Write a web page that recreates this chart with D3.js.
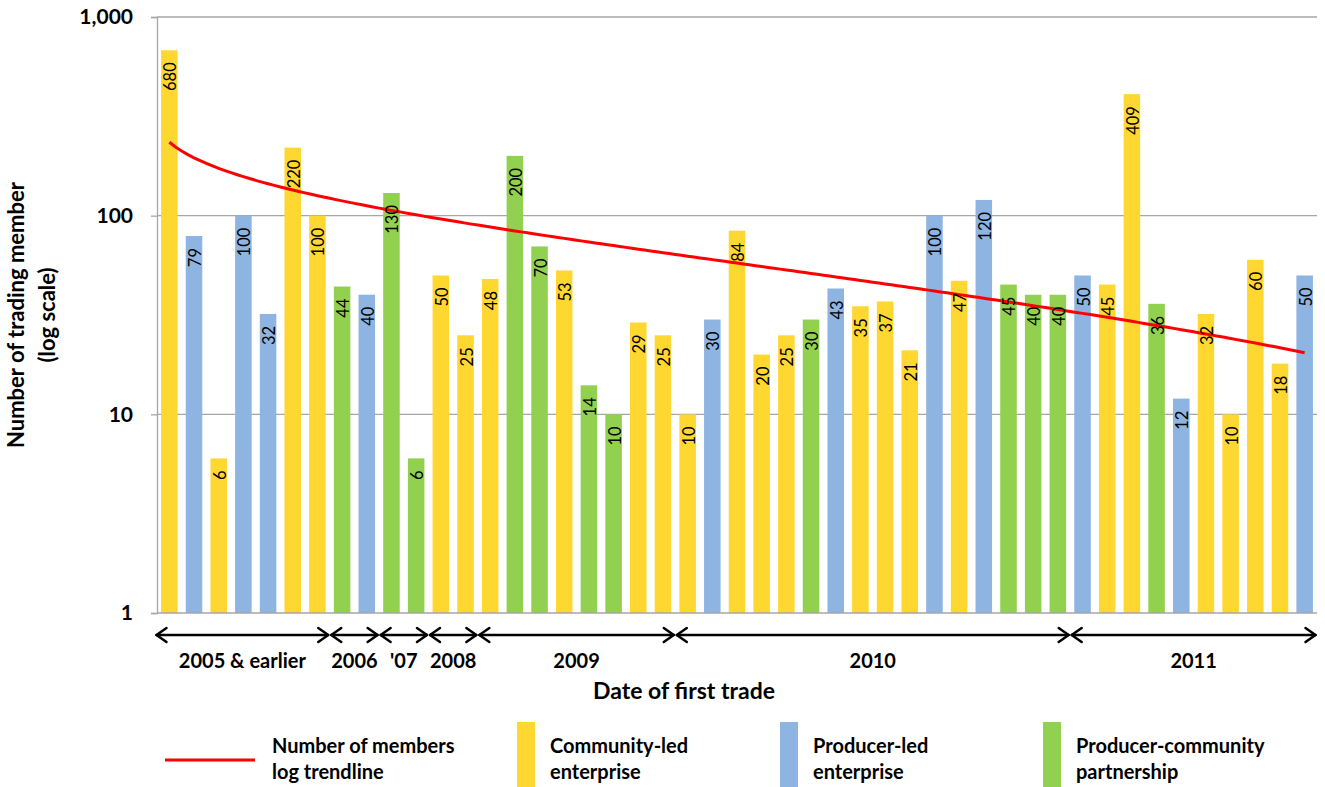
<!DOCTYPE html>
<html>
<head>
<meta charset="utf-8">
<script src="https://cdn.jsdelivr.net/npm/d3@7"></script>
<style>
  body { margin: 0; background: #fff; }
  svg { display: block; font-family: Lato, "Open Sans", sans-serif; }
</style>
</head>
<body>
<script>
// bar values, in order of first trade
var members = [680, 79, 6, 100, 32, 220, 100, 44, 40, 130, 6, 50, 25, 48, 200, 70, 53, 14, 10, 29, 25,
  10, 30, 84, 20, 25, 30, 43, 35, 37, 21, 100, 47, 120, 45, 40, 40,
  50, 45, 409, 36, 12, 32, 10, 60, 18, 50];
// C = community-led, P = producer-led, PC = producer-community partnership
var types = ['C', 'P', 'C', 'P', 'P', 'C', 'C', 'PC', 'P', 'PC', 'PC', 'C', 'C', 'C', 'PC', 'PC', 'C', 'PC', 'PC', 'C', 'C',
  'C', 'P', 'C', 'C', 'C', 'PC', 'P', 'C', 'C', 'C', 'P', 'C', 'P', 'PC', 'PC', 'PC',
  'P', 'C', 'C', 'PC', 'P', 'C', 'C', 'C', 'C', 'P'];
var yearLabels = ['2005 & earlier', '2006', "'07", '2008', '2009', '2010', '2011'];
var yearCounts = [7, 2, 2, 2, 8, 16, 10];
var yTicks = [1, 10, 100, 1000];
var legendItems = [
  {key: 'trend', lines: ['Number of members', 'log trendline']},
  {key: 'C', lines: ['Community-led', 'enterprise']},
  {key: 'P', lines: ['Producer-led', 'enterprise']},
  {key: 'PC', lines: ['Producer-community', 'partnership']}
];

var colors = {C: '#FFD731', P: '#8EB4E2', PC: '#92D050', trend: '#FF0000'};

var width = 1325, height = 787;
var plotLeft = 157, plotRight = 1317, plotTop = 17, plotBottom = 613;

var svg = d3.select('body').append('svg').attr('width', width).attr('height', height);

var x = d3.scaleBand().domain(d3.range(members.length)).range([plotLeft, plotRight])
  .paddingInner(0.33).paddingOuter(0.165);
var y = d3.scaleLog().domain([1, 1000]).range([plotBottom, plotTop]);

// gridlines
svg.append('g').selectAll('line').data(yTicks.slice(1)).enter().append('line')
  .attr('x1', plotLeft).attr('x2', plotRight)
  .attr('y1', function(d) { return y(d); }).attr('y2', function(d) { return y(d); })
  .attr('stroke', '#A6A6A6').attr('stroke-width', 1.3);

// y axis
var yAxis = d3.axisLeft(y).tickValues(yTicks).tickFormat(d3.format(',')).tickSize(6).tickPadding(18);
var ya = svg.append('g').attr('transform', 'translate(' + plotLeft + ',0)').call(yAxis);
ya.select('.domain').attr('stroke', '#A6A6A6').attr('stroke-width', 1.3);
ya.selectAll('.tick line').attr('stroke', '#A6A6A6').attr('stroke-width', 1.3);
ya.selectAll('.tick text').attr('font-size', 21).attr('font-weight', 'bold')
  .attr('font-family', 'Lato, sans-serif').attr('fill', '#000');

// bars
svg.append('g').selectAll('rect').data(members).enter().append('rect')
  .attr('x', function(d, i) { return x(i); })
  .attr('width', x.bandwidth())
  .attr('y', function(d) { return y(d); })
  .attr('height', function(d) { return y(1) - y(d); })
  .attr('fill', function(d, i) { return colors[types[i]]; });

// x axis line
svg.append('line').attr('x1', plotLeft).attr('x2', plotRight).attr('y1', plotBottom).attr('y2', plotBottom)
  .attr('stroke', '#A6A6A6').attr('stroke-width', 1.3);

// log trendline, least squares fit of members = a*ln(n) + b
var lnX = members.map(function(d, i) { return Math.log(i + 1); });
var mx = d3.mean(lnX), my = d3.mean(members);
var sxy = d3.sum(members, function(d, i) { return (lnX[i] - mx) * (d - my); });
var sxx = d3.sum(lnX, function(d) { return (d - mx) * (d - mx); });
var slope = sxy / sxx;
var intercept = my - slope * mx;

var xt = d3.scaleLinear().domain([1, members.length])
  .range([x(0) + x.bandwidth() / 2, x(members.length - 1) + x.bandwidth() / 2]);
var trendPts = d3.range(1, members.length + 0.001, 0.25);
var trendLine = d3.line()
  .x(function(d) { return xt(d); })
  .y(function(d) { return y(intercept + slope * Math.log(d)); });
svg.append('path').datum(trendPts).attr('d', trendLine)
  .attr('fill', 'none').attr('stroke', colors.trend).attr('stroke-width', 3);

// value labels, rotated inside top of bar
svg.append('g').selectAll('text').data(members).enter().append('text')
  .attr('transform', function(d, i) {
    return 'translate(' + (x(i) + x.bandwidth() / 2 + 1) + ',' + (y(d) + 12) + ') rotate(-90)';
  })
  .attr('text-anchor', 'end').attr('dominant-baseline', 'central')
  .attr('font-size', 16.5).attr('fill', '#000')
  .text(function(d) { return d; });

// year arrows
var step = x.step();
var arrowY = 635;
var start = 0;
var groups = yearLabels.map(function(label, k) {
  var g = {label: label, x0: x(start) - (x.paddingInner() * step) / 2, x1: x(start + yearCounts[k] - 1) + x.bandwidth() + (x.paddingInner() * step) / 2};
  start += yearCounts[k];
  return g;
});
groups[0].x0 -= 2;

var ag = svg.append('g').attr('stroke', '#000').attr('stroke-width', 2.5).attr('fill', 'none')
  .attr('stroke-linecap', 'round').attr('stroke-linejoin', 'round');
groups.forEach(function(g) {
  var a = g.x0 + 1.5, b = g.x1 - 1.5;
  ag.append('line').attr('x1', a).attr('x2', b).attr('y1', arrowY).attr('y2', arrowY);
  ag.append('path').attr('d', 'M' + (a + 10) + ',' + (arrowY - 7) + 'L' + a + ',' + arrowY + 'L' + (a + 10) + ',' + (arrowY + 7));
  ag.append('path').attr('d', 'M' + (b - 10) + ',' + (arrowY - 7) + 'L' + b + ',' + arrowY + 'L' + (b - 10) + ',' + (arrowY + 7));
});
svg.append('g').selectAll('text').data(groups).enter().append('text')
  .attr('x', function(d) { return (d.x0 + d.x1) / 2; })
  .attr('y', 668)
  .attr('text-anchor', 'middle').attr('font-size', 20).attr('font-weight', 'bold')
  .text(function(d) { return d.label; });

// axis titles
svg.append('text').attr('x', 684).attr('y', 699).attr('text-anchor', 'middle')
  .attr('font-size', 23).attr('font-weight', 'bold').text('Date of first trade');

var yt = svg.append('text').attr('transform', 'translate(32,315) rotate(-90)')
  .attr('text-anchor', 'middle').attr('font-size', 22).attr('font-weight', 'bold');
yt.append('tspan').attr('x', 0).attr('y', -8).text('Number of trading member');
yt.append('tspan').attr('x', 0).attr('y', 23).text('(log scale)');

// legend
var legendX = [165, 517, 780, 1043];
var lg = svg.append('g').selectAll('g').data(legendItems).enter().append('g')
  .attr('transform', function(d, i) { return 'translate(' + legendX[i] + ',0)'; });
lg.each(function(d) {
  var g = d3.select(this);
  var tx;
  if (d.key === 'trend') {
    g.append('line').attr('x1', 0).attr('x2', 90).attr('y1', 760).attr('y2', 760)
      .attr('stroke', colors.trend).attr('stroke-width', 3);
    tx = 107;
  } else {
    g.append('rect').attr('x', 0).attr('y', 722).attr('width', 18).attr('height', 65)
      .attr('fill', colors[d.key]);
    tx = 33;
  }
  g.append('text').attr('x', tx).attr('y', 753).attr('font-size', 20).attr('font-weight', 'bold')
    .text(d.lines[0]);
  g.append('text').attr('x', tx).attr('y', 779).attr('font-size', 20).attr('font-weight', 'bold')
    .text(d.lines[1]);
});
</script>
</body>
</html>
